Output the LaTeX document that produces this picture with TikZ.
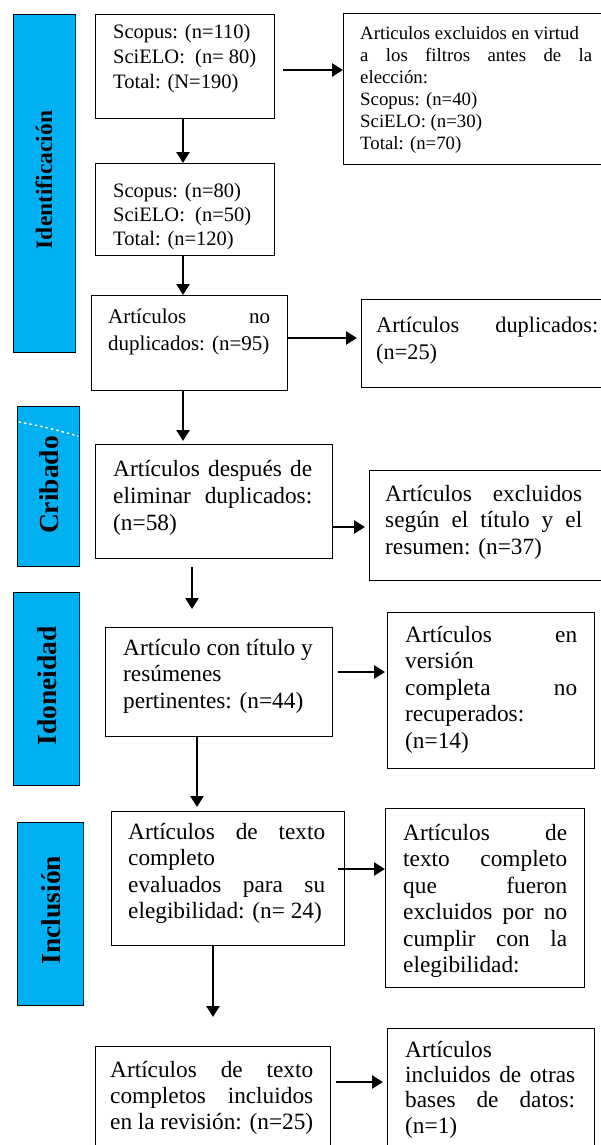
\documentclass[tikz,border=0pt]{standalone}
\usepackage{fontspec}
\setmainfont{Liberation Serif}
\usetikzlibrary{arrows.meta,calc}
\definecolor{barblue}{RGB}{0,176,240}
\tolerance=10000
\hyphenpenalty=10000
\exhyphenpenalty=10000
\hbadness=10000
\begin{document}
\begin{tikzpicture}[x=1pt,y=-1pt,
  box/.style={draw=black,line width=1.3pt,inner sep=0pt,anchor=north west},
  bar/.style={draw=black,line width=1.3pt,fill=barblue,inner sep=0pt,anchor=north west},
  txt/.style={inner sep=0pt,anchor=base west,align=justify},
  lbl/.style={inner sep=0pt,rotate=90,font=\bfseries\fontsize{27.5}{30}\selectfont},
  arr/.style={line width=2.5pt,-{Triangle[length=11pt,width=13pt]}}]
\useasboundingbox (0,0) rectangle (600,1145);
\fill[white] (0,0) rectangle (600,1145);

% phase bars
\node[bar,minimum width=62pt,minimum height=338pt] (bar1) at (13,14) {};
\node[bar,minimum width=62pt,minimum height=160pt] (bar2) at (17,406) {};
\node[bar,minimum width=66pt,minimum height=193pt] (bar3) at (13,592) {};
\node[bar,minimum width=66pt,minimum height=183pt] (bar4) at (17,822) {};
\draw[white,line width=1.6pt,dash pattern=on 1.5pt off 4pt,line cap=round] (19,422) .. controls (45,427) .. (78,436);
\node[lbl,font=\bfseries\fontsize{23.5}{26}\selectfont] (l1) at (44,180) {Identificación};
\node[lbl] (l2) at (49,485) {Cribado};
\node[lbl] (l3) at (47,686) {Idoneidad};
\node[lbl] (l4) at (51,910) {Inclusión};

% boxes
\node[box,minimum width=179pt,minimum height=104pt] (b1) at (95,14) {};
\node[box,minimum width=262pt,minimum height=151pt] (b2) at (343,13) {};
\node[box,minimum width=179pt,minimum height=92pt] (b3) at (95,163) {};
\node[box,minimum width=196pt,minimum height=95pt] (b4) at (91,295) {};
\node[box,minimum width=244pt,minimum height=88pt] (b5) at (361,299) {};
\node[box,minimum width=237pt,minimum height=114pt] (b6) at (95,444) {};
\node[box,minimum width=236pt,minimum height=110pt] (b7) at (369,470) {};
\node[box,minimum width=227pt,minimum height=109pt] (b8) at (105,627) {};
\node[box,minimum width=207pt,minimum height=156pt] (b9) at (387,612) {};
\node[box,minimum width=233pt,minimum height=134pt] (b10) at (111,811) {};
\node[box,minimum width=199pt,minimum height=179pt] (b11) at (385,808) {};
\node[box,minimum width=235pt,minimum height=110pt] (b12) at (95,1046) {};
\node[box,minimum width=207pt,minimum height=130pt] (b13) at (387,1028) {};

% texts
\node[txt,text width=160pt,font=\fontsize{20.5}{25}\selectfont] (t1) at (113,39)
  {Scopus: (n=110)\\ SciELO:\ \ (n=\ 80)\\ Total: (N=190)};
\node[txt,text width=232pt,font=\fontsize{18.8}{22}\selectfont] (t2) at (360,40)
  {Articulos excluidos en virtud\\ a los filtros antes de la\linebreak elección:\\ Scopus: (n=40)\\ SciELO: (n=30)\\ Total: (n=70)};
\node[txt,text width=160pt,font=\fontsize{20.5}{24}\selectfont] (t3) at (113,197)
  {Scopus: (n=80)\\ SciELO:\ \ (n=50)\\ Total: (n=120)};
\node[txt,text width=162pt,font=\fontsize{21}{27}\selectfont] (t4) at (108,323)
  {Artículos no\linebreak duplicados: (n=95)};
\node[txt,text width=222pt,font=\fontsize{22.3}{27}\selectfont] (t5) at (376,332)
  {Artículos duplicados:\linebreak (n=25)};
\node[txt,text width=199pt,font=\fontsize{23.3}{27}\selectfont] (t6) at (113,476)
  {Artículos después de\linebreak eliminar duplicados:\linebreak (n=58)};
\node[txt,text width=197pt,font=\fontsize{23.3}{26.5}\selectfont] (t7) at (385,501)
  {Artículos excluidos\linebreak según el título y el\linebreak resumen: (n=37)};
\node[txt,text width=192pt,font=\fontsize{23.3}{26.5}\selectfont] (t8) at (123,655)
  {Artículo con título y\\ resúmenes\\ pertinentes: (n=44)};
\node[txt,text width=172pt,font=\fontsize{23.3}{26.6}\selectfont] (t9) at (405,642)
  {Artículos en\linebreak versión\\ completa no\linebreak recuperados:\\ (n=14)};
\node[txt,text width=197pt,font=\fontsize{23.3}{26.5}\selectfont] (t10) at (128,839)
  {Artículos de texto\linebreak completo\\ evaluados para su\linebreak elegibilidad: (n=\ 24)};
\node[txt,text width=164pt,font=\fontsize{23.3}{26.5}\selectfont] (t11) at (403,840)
  {Artículos de\linebreak texto completo\linebreak que fueron\linebreak excluidos por no\linebreak cumplir con la\linebreak elegibilidad:};
\node[txt,text width=203pt,font=\fontsize{23.3}{26}\selectfont] (t12) at (110,1077)
  {Artículos de texto\linebreak completos incluidos\linebreak en la revisión: (n=25)};
\node[txt,text width=170pt,font=\fontsize{23.3}{25.4}\selectfont] (t13) at (405,1057)
  {Artículos\\ incluidos de otras\linebreak bases de datos:\linebreak (n=1)};

% arrow guide coordinates
\coordinate (a1) at (283,70);
\coordinate (a2) at (0,338);
\coordinate (a3) at (0,527);
\coordinate (a4) at (0,672);
\coordinate (a5) at (0,869);
\coordinate (a6) at (0,1082);
\coordinate (x1) at (183,0);
\coordinate (x2) at (192,0);
\coordinate (x3) at (197,0);
\coordinate (x4) at (213,0);

% connectors
\draw[arr] (a1) -- (a1 -| b2.west);
\draw[arr] (b1.south -| x1) -- (b3.north -| x1);
\draw[arr] (b3.south -| x1) -- (b4.north -| x1);
\draw[arr,shorten >=4pt] (a2 -| b4.east) -- (a2 -| b5.west);
\draw[arr,shorten >=3pt] (b4.south -| x1) -- (b6.north -| x1);
\draw[arr,shorten >=4pt] (a3 -| b6.east) -- (a3 -| b7.west);
\draw[arr,shorten <=8pt,shorten >=18pt] (b6.south -| x2) -- (b8.north -| x2);
\draw[arr,shorten <=5pt,shorten >=2pt] (a4 -| b8.east) -- (a4 -| b9.west);
\draw[arr,shorten >=4pt] (b8.south -| x3) -- (b10.north -| x3);
\draw[arr,shorten <=-7pt] (a5 -| b10.east) -- (a5 -| b11.west);
\draw[arr,shorten >=29pt] (b10.south -| x4) -- (b12.north -| x4);
\draw[arr,shorten <=5pt,shorten >=4pt] (a6 -| b12.east) -- (a6 -| b13.west);
\end{tikzpicture}
\end{document}
